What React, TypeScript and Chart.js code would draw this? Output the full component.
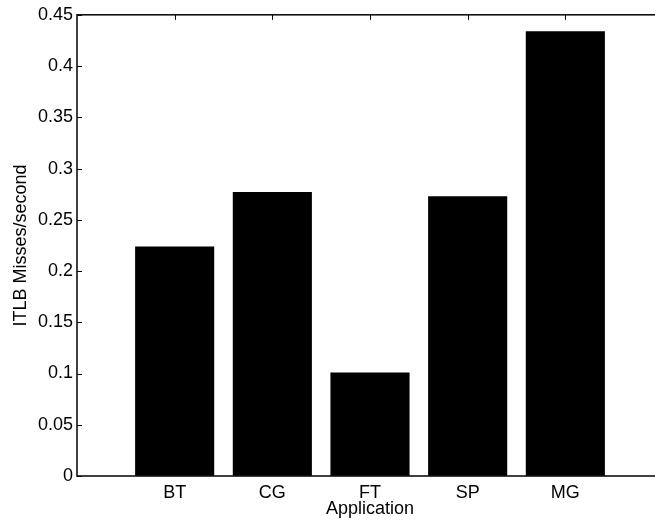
import React, { useEffect, useRef } from 'react';
import { Chart, registerables } from 'chart.js';

Chart.register(...registerables);

const categories = ['BT', 'CG', 'FT', 'SP', 'MG'];
const itlbMissesPerSecond = [0.224, 0.277, 0.101, 0.273, 0.434];
const yTicks = [0, 0.05, 0.1, 0.15, 0.2, 0.25, 0.3, 0.35, 0.4, 0.45];
const yTickLabels = ['0', '0.05', '0.1', '0.15', '0.2', '0.25', '0.3', '0.35', '0.4', '0.45'];
const xAxisTitle = 'Application';
const yAxisTitle = 'ITLB Misses/second';

const FONT = "'Liberation Sans', Arial, Helvetica, sans-serif";

const boxPlugin = {
  id: 'matlabBox',
  afterDraw(chart: any) {
    const { ctx, chartArea: a, scales } = chart;
    ctx.save();
    ctx.strokeStyle = '#000';
    ctx.lineWidth = 1;
    const tl = 5;
    ctx.beginPath();
    yTicks.forEach((v) => {
      const y = Math.round(scales.y.getPixelForValue(v)) + 0.5;
      ctx.moveTo(a.left, y);
      ctx.lineTo(a.left + tl, y);
      ctx.moveTo(a.right, y);
      ctx.lineTo(a.right - tl, y);
    });
    categories.forEach((_, i) => {
      const x = Math.round(scales.x.getPixelForValue(i + 1)) + 0.5;
      ctx.moveTo(x, a.top);
      ctx.lineTo(x, a.top + tl);
      ctx.moveTo(x, a.bottom);
      ctx.lineTo(x, a.bottom - tl);
    });
    ctx.stroke();
    ctx.strokeStyle = '#111';
    ctx.lineWidth = 1.6;
    ctx.strokeRect(a.left, a.top, a.right - a.left, a.bottom - a.top);
    ctx.restore();
  },
};

export default function App() {
  const ref = useRef<HTMLCanvasElement>(null);
  useEffect(() => {
    if (!ref.current) return;
    const labels = ['', ...categories, ''];
    const data = [null, ...itlbMissesPerSecond, null];
    const chart = new Chart(ref.current, {
      type: 'bar',
      data: {
        labels,
        datasets: [
          {
            data,
            backgroundColor: '#000',
            borderWidth: 0,
            categoryPercentage: 0.81,
            barPercentage: 1,
          },
        ],
      },
      plugins: [boxPlugin],
      options: {
        responsive: false,
        maintainAspectRatio: false,
        animation: false,
        devicePixelRatio: 1,
        layout: { padding: { left: 0, top: 14, right: 17, bottom: 0 } },
        plugins: { legend: { display: false }, tooltip: { enabled: false } },
        scales: {
          x: {
            type: 'category',
            offset: false,
            grid: { display: false, drawTicks: false },
            border: { display: false },
            ticks: {
              autoSkip: false,
              maxRotation: 0,
              minRotation: 0,
              padding: 6,
              color: '#000',
              font: { family: FONT, size: 18 },
            },
            title: {
              display: true,
              text: xAxisTitle,
              color: '#000',
              font: { family: FONT, size: 18 },
              padding: { top: 0, bottom: 1 },
            },
            afterFit: (s: any) => {
              s.height = 45;
            },
          },
          y: {
            type: 'linear',
            min: 0,
            max: 0.45,
            grid: { display: false, drawTicks: false },
            border: { display: false },
            afterBuildTicks: (s: any) => {
              s.ticks = yTicks.map((v) => ({ value: v }));
            },
            ticks: {
              padding: 4,
              color: '#000',
              font: { family: FONT, size: 18 },
              callback: (v: any) => {
                const i = yTicks.findIndex((t) => Math.abs(t - Number(v)) < 1e-9);
                return i >= 0 ? yTickLabels[i] : '';
              },
            },
            title: {
              display: true,
              text: yAxisTitle,
              color: '#000',
              font: { family: FONT, size: 18 },
              padding: { top: 10, bottom: 0 },
            },
            afterFit: (s: any) => {
              s.width = 77;
            },
          },
        },
      },
    });
    return () => chart.destroy();
  }, []);
  return (
    <div
      style={{
        position: 'absolute',
        left: 0,
        top: 0,
        width: 655,
        height: 521,
        overflow: 'hidden',
        background: '#fff',
      }}
    >
      <canvas ref={ref} width={680} height={521} style={{ display: 'block', width: 680, height: 521 }} />
    </div>
  );
}
